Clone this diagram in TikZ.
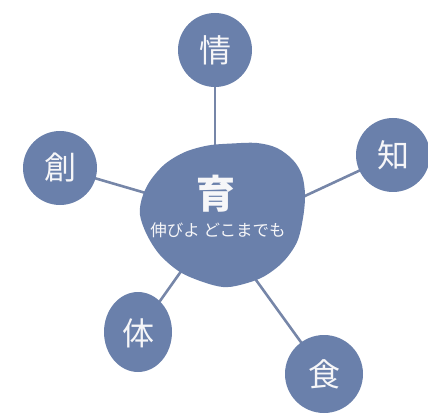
\documentclass[tikz,border=0pt]{standalone}
\usepackage{fontspec}
\usetikzlibrary{shapes.geometric,backgrounds}
\newfontfamily\jp{Noto Sans CJK JP}
\definecolor{blobblue}{RGB}{106,128,171}
\definecolor{linkgray}{RGB}{118,134,168}
\definecolor{txtwhite}{RGB}{246,246,248}
\begin{document}
\begin{tikzpicture}[x=1pt,y=-1pt,
  sat/.style={circle,fill=blobblue,minimum size=74pt,inner sep=0pt,
    font=\jp\fontsize{32}{34}\selectfont,text=txtwhite},
  link/.style={draw=linkgray,line width=2.6pt}]
\useasboundingbox (0,0) rectangle (428,414);
% central shape
\fill[blobblue] plot[smooth cycle,tension=0.55] coordinates {(232,143.5) (257,143) (277,148) (293,160) (302,175) (305,195) (303,218) (297,242) (283,262) (263,277) (240,285) (223,287) (203,282) (180,272) (160,255) (147,235) (140,215) (142,198) (150,181) (165,164) (185,152) (208,145.5)};
\node[font=\jp\bfseries\fontsize{39}{40}\selectfont,text=txtwhite] (iku) at (216,194) {育};
\node[font=\jp\fontsize{16.5}{18}\selectfont,text=txtwhite] (motto) at (218,230) {伸びよ どこまでも};
% hubs inside the central shape
\coordinate (hub) at (221,215);
\coordinate (hubN) at (215,215);
\coordinate (hubE) at (221,235);
\coordinate (hubS) at (209,215);
% satellites
\node[sat] (jo) at (215,50) {情};
\node[sat] (chi) at (393,155) {知};
\node[sat] (so) at (60,168) {創};
\node[sat,ellipse,minimum width=68pt,minimum height=80pt] (tai) at (138,332) {};
\node[font=\jp\fontsize{32}{34}\selectfont,text=txtwhite] (taiT) at (138,333) {体};
\node[sat,minimum size=78pt] (shoku) at (324,374) {食};
% connectors (behind)
\begin{scope}[on background layer]
\draw[link] (hubN) -- (jo.center);
\draw[link] (hubE) -- (chi.center);
\draw[link] (hub) -- (so.center);
\draw[link] (hub) -- (tai.center);
\draw[link] (hubS) -- (shoku.center);
\end{scope}
\end{tikzpicture}
\end{document}
